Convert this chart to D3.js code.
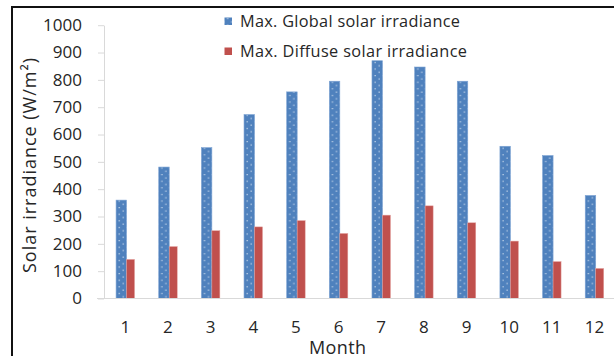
<!DOCTYPE html>
<html>
<head>
<meta charset="utf-8">
<script src="https://cdn.jsdelivr.net/npm/d3@7"></script>
<style>
  html, body { margin: 0; padding: 0; background: #fff; }
  svg { display: block; }
  text { font-family: "Open Sans", Lato, sans-serif; fill: #262626; }
</style>
</head>
<body>
<svg id="chart" width="614" height="356"></svg>
<script>
// Monthly maxima of solar irradiance (W/m²)
const months = ["1", "2", "3", "4", "5", "6", "7", "8", "9", "10", "11", "12"];
const globalMax = [360, 481, 552, 673, 756, 795, 870, 847, 795, 557, 523, 377];
const diffuseMax = [143, 190, 248, 262, 285, 238, 305, 339, 277, 210, 135, 110];
const yTicks = [0, 100, 200, 300, 400, 500, 600, 700, 800, 900, 1000];
const seriesNames = ["Max. Global solar irradiance", "Max. Diffuse solar irradiance"];

const svg = d3.select("#chart");
const W = 614, H = 356;
const FONT = "'Open Sans', Lato, sans-serif";

const plotLeft = 104, bandStep = 42.65;
const x = d3.scaleBand().domain(months)
  .range([plotLeft, plotLeft + bandStep * months.length])
  .paddingInner(0).paddingOuter(0);
const y = d3.scaleLinear().domain([0, 1000]).range([298.5, 25.2]);

const blueW = 10.5, redW = 8, pairW = blueW + redW;
const blue = "#4f81bd", red = "#c0504d", dot = "#e4ecf6";
const barX = d => x(d) + (x.bandwidth() - pairW) / 2;

// staggered white-dot fill for the global series, one pattern per bar so the dots line up
const defs = svg.append("defs");
function dotPattern(id, ox, oy) {
  const p = defs.append("pattern").attr("id", id)
    .attr("patternUnits", "userSpaceOnUse")
    .attr("x", ox).attr("y", oy).attr("width", 8).attr("height", 6.6);
  p.append("rect").attr("width", 8).attr("height", 6.6).attr("fill", blue);
  p.append("rect").attr("x", 2.6).attr("y", 1).attr("width", 1.1).attr("height", 1.1).attr("fill", dot);
  p.append("rect").attr("x", 6.6).attr("y", 4.3).attr("width", 1.1).attr("height", 1.1).attr("fill", dot);
}
months.forEach((m, i) => dotPattern("dots" + i, barX(m), y(0)));
dotPattern("dotsLegend", 224.5, 17);

// outer frame
svg.append("rect").attr("x", 12).attr("y", 7).attr("width", W + 20).attr("height", H + 20)
  .attr("fill", "none").attr("stroke", "#111").attr("stroke-width", 2);

// y axis
const yAxis = d3.axisLeft(y).tickValues(yTicks).tickFormat(d3.format("d"))
  .tickSize(6).tickSizeOuter(0).tickPadding(16);
const gy = svg.append("g").attr("transform", `translate(${plotLeft},0)`).call(yAxis);
gy.select(".domain").attr("stroke", "#d9d9d9");
gy.selectAll(".tick line").attr("stroke", "#d9d9d9");
gy.selectAll(".tick text").attr("font-size", 17).attr("fill", "#262626").attr("font-family", FONT);

// bars
const bars = svg.append("g");
bars.selectAll("rect.global").data(months).join("rect")
  .attr("class", "global")
  .attr("x", d => barX(d))
  .attr("y", (d, i) => y(globalMax[i]))
  .attr("width", blueW)
  .attr("height", (d, i) => y(0) - y(globalMax[i]))
  .attr("fill", (d, i) => `url(#dots${i})`)
  .attr("stroke", "#7da3d3").attr("stroke-width", 0.6);
bars.selectAll("rect.diffuse").data(months).join("rect")
  .attr("class", "diffuse")
  .attr("x", d => barX(d) + blueW)
  .attr("y", (d, i) => y(diffuseMax[i]))
  .attr("width", redW)
  .attr("height", (d, i) => y(0) - y(diffuseMax[i]))
  .attr("fill", red)
  .attr("stroke", "#e3a3a1").attr("stroke-width", 0.5);

// x axis
svg.append("line").attr("x1", 97).attr("x2", W + 10)
  .attr("y1", y(0)).attr("y2", y(0)).attr("stroke", "#d9d9d9").attr("stroke-width", 1);
const xAxis = d3.axisBottom(x).tickSize(0).tickPadding(22.5);
const gx = svg.append("g").attr("transform", `translate(0,${y(0)})`).call(xAxis);
gx.select(".domain").remove();
gx.selectAll(".tick text").attr("font-size", 17).attr("fill", "#262626").attr("font-family", FONT);

// axis titles
svg.append("text").attr("x", 337.5).attr("y", 353.5).attr("text-anchor", "middle")
  .attr("font-size", 18).attr("textLength", 57).attr("lengthAdjust", "spacing")
  .text("Month");
svg.append("text").attr("transform", "translate(36,165.5) rotate(-90)")
  .attr("text-anchor", "middle").attr("font-size", 18)
  .attr("textLength", 215).attr("lengthAdjust", "spacing")
  .text("Solar irradiance (W/m²)");

// legend
const legend = svg.append("g");
const legendRows = [
  { name: seriesNames[0], fill: "url(#dotsLegend)", baseline: 27, len: 220 },
  { name: seriesNames[1], fill: red, baseline: 57, len: 227 }
];
legendRows.forEach(r => {
  legend.append("rect").attr("x", 224.5).attr("y", r.baseline - 9.5)
    .attr("width", 7.5).attr("height", 7.5).attr("fill", r.fill);
  legend.append("text").attr("x", 240).attr("y", r.baseline)
    .attr("font-size", 16.3).attr("textLength", r.len).attr("lengthAdjust", "spacing")
    .text(r.name);
});
</script>
</body>
</html>
